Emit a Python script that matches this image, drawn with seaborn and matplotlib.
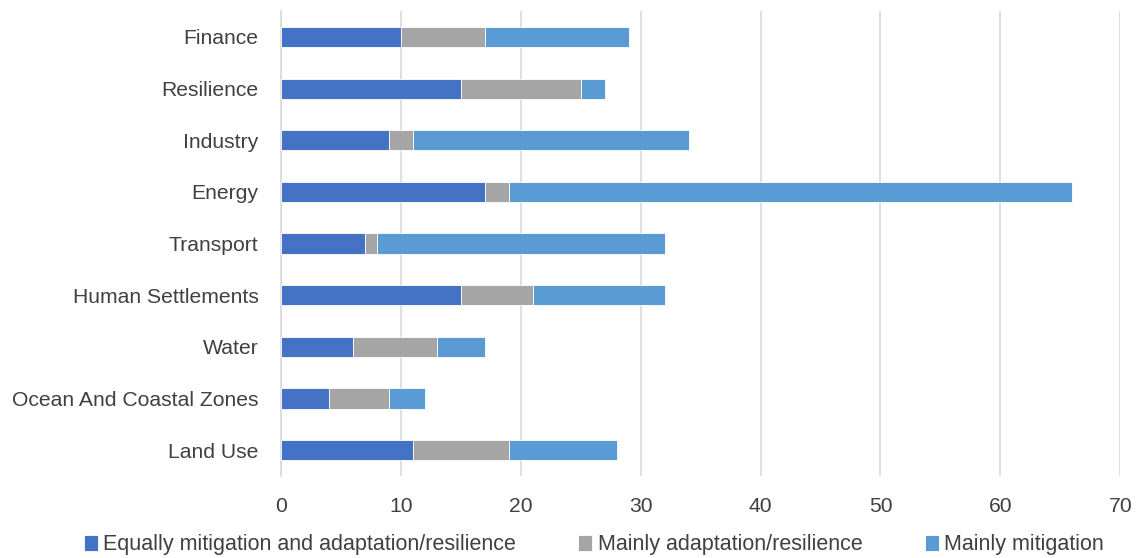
import numpy as np
import pandas as pd
import matplotlib
matplotlib.use("Agg")
import matplotlib.pyplot as plt
import seaborn as sns

sectors = ["Finance", "Resilience", "Industry", "Energy", "Transport",
           "Human Settlements", "Water", "Ocean And Coastal Zones", "Land Use"]
equally = [10, 15, 9, 17, 7, 15, 6, 4, 11]
mainly_adapt = [7, 10, 2, 2, 1, 6, 7, 5, 8]
mainly_mitig = [12, 2, 23, 47, 24, 11, 4, 3, 9]

series_names = ["Equally mitigation and adaptation/resilience",
                "Mainly adaptation/resilience",
                "Mainly mitigation"]
colors = ["#4472C4", "#A5A5A5", "#5B9BD5"]
ticks = [0, 10, 20, 30, 40, 50, 60, 70]

sns.set_theme(style="white")
plt.rcParams["font.family"] = ["Liberation Sans", "DejaVu Sans"]

df = pd.DataFrame({"sector": sectors, "a": equally, "b": mainly_adapt, "c": mainly_mitig})
df["left_b"] = df["a"]
df["left_c"] = df["a"] + df["b"]

fig, ax = plt.subplots(figsize=(11.42, 5.58), dpi=100)
fig.subplots_adjust(left=0.246, right=0.981, top=0.98, bottom=0.147)

for col, left, name, color in [("a", None, series_names[0], colors[0]),
                               ("b", "left_b", series_names[1], colors[1]),
                               ("c", "left_c", series_names[2], colors[2])]:
    kwargs = {}
    if left is not None:
        kwargs["left"] = df[left]
    sns.barplot(data=df, x=col, y="sector", orient="h", color=color, ax=ax,
                width=0.39, label=name, edgecolor="white", linewidth=0.6,
                saturation=1, zorder=3, **kwargs)

ax.set_xlim(0, 70)
ax.set_xticks(ticks)
ax.set_xticklabels([str(t) for t in ticks])
ax.set_ylim(len(sectors) - 0.5, -0.5)
ax.set_xlabel("")
ax.set_ylabel("")
ax.xaxis.grid(True, color="#D9D9D9", linewidth=1.2, zorder=0)
ax.set_axisbelow(True)
for s in ["top", "right", "bottom"]:
    ax.spines[s].set_visible(False)
ax.spines["left"].set_color("#D9D9D9")
ax.spines["left"].set_linewidth(1.2)
ax.tick_params(axis="y", length=0, labelsize=15.2, colors="#404040", pad=16)
ax.tick_params(axis="x", length=0, labelsize=15.2, colors="#404040", pad=15)

handles, labels = ax.get_legend_handles_labels()
fig.legend(handles, labels, loc="lower center", ncol=3, frameon=False,
           fontsize=15.5, labelcolor="#404040", handlelength=0.65, handleheight=0.75,
           handletextpad=0.25, columnspacing=2.9, bbox_to_anchor=(0.52, -0.03))
if ax.get_legend() is not None:
    ax.get_legend().remove()

fig.savefig("out.png", dpi=100)
